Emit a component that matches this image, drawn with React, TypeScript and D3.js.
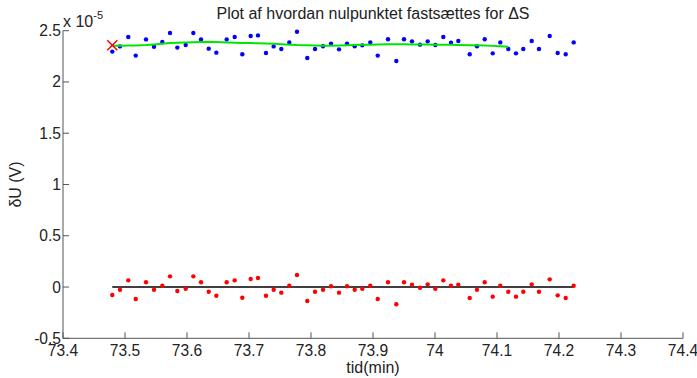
import React from "react";
import * as d3 from "d3";

// time (min)
const times = [
  73.4795, 73.4919, 73.5053, 73.5173, 73.5339, 73.5468, 73.5602, 73.5726, 73.5844, 73.5979,
  73.6102, 73.6226, 73.635, 73.6473, 73.664, 73.6769, 73.6892, 73.7027, 73.7145, 73.7274,
  73.7398, 73.7521, 73.765, 73.7774, 73.794, 73.8065, 73.8194, 73.8323, 73.8452, 73.8581,
  73.8705, 73.8827, 73.8956, 73.9076, 73.9242, 73.9376, 73.95, 73.9629, 73.9758, 73.9882,
  74.0005, 74.0134, 74.0258, 74.0376, 74.056, 74.0677, 74.0802, 74.0931, 74.1053, 74.1182,
  74.1306, 74.1424, 74.156, 74.1677, 74.185, 74.1979, 74.2108, 74.2237,
];

// measured δU (x 1e-5 V), blue
const measured = [
  2.296, 2.347, 2.439, 2.257, 2.415, 2.344, 2.39, 2.478, 2.335, 2.361,
  2.478, 2.415, 2.325, 2.286, 2.415, 2.439, 2.27, 2.448, 2.454, 2.283,
  2.347, 2.322, 2.386, 2.49, 2.234, 2.322, 2.348, 2.374, 2.318, 2.374,
  2.348, 2.357, 2.386, 2.257, 2.416, 2.205, 2.416, 2.396, 2.364, 2.396,
  2.361, 2.439, 2.383, 2.4, 2.27, 2.348, 2.416, 2.279, 2.386, 2.322,
  2.279, 2.322, 2.4, 2.322, 2.448, 2.283, 2.27, 2.386,
];

// running mean (green), defined for the first 50 samples
const smoothed = [
  2.353, 2.353, 2.355, 2.356, 2.36, 2.366, 2.372, 2.38, 2.383, 2.386,
  2.388, 2.391, 2.392, 2.389, 2.386, 2.383, 2.381, 2.379, 2.378, 2.376,
  2.372, 2.368, 2.364, 2.36, 2.358, 2.356, 2.354, 2.353, 2.355, 2.357,
  2.36, 2.362, 2.364, 2.366, 2.368, 2.369, 2.367, 2.366, 2.365, 2.365,
  2.364, 2.363, 2.362, 2.36, 2.359, 2.357, 2.355, 2.352, 2.348, 2.343,
];

// zero-corrected (red)
const corrected = [
  -0.078, -0.026, 0.065, -0.117, 0.046, -0.026, 0.013, 0.104, -0.039, -0.017,
  0.104, 0.046, -0.046, -0.085, 0.046, 0.065, -0.104, 0.078, 0.088, -0.085,
  -0.026, -0.055, 0.013, 0.117, -0.136, -0.046, -0.026, 0.007, -0.055, 0.007,
  -0.026, -0.017, 0.013, -0.117, 0.046, -0.168, 0.046, 0.022, -0.007, 0.026,
  -0.017, 0.065, 0.013, 0.022, -0.107, -0.026, 0.046, -0.094, 0.013, -0.046,
  -0.094, -0.046, 0.026, -0.046, 0.075, -0.081, -0.107, 0.013,
];

const zeroPoint = { t: 73.4795, v: 2.359 };

const xTicks = [73.4, 73.5, 73.6, 73.7, 73.8, 73.9, 74.0, 74.1, 74.2, 74.3, 74.4];
const xTickLabels = ["73.4", "73.5", "73.6", "73.7", "73.8", "73.9", "74", "74.1", "74.2", "74.3", "74.4"];
const yTicks = [-0.5, 0, 0.5, 1, 1.5, 2, 2.5];
const yTickLabels = ["-0.5", "0", "0.5", "1", "1.5", "2", "2.5"];

const W = 697;
const H = 378;
const FONT = "'Liberation Sans', Arial, Helvetica, sans-serif";

export default function App() {
  const x = d3.scaleLinear().domain([73.4, 74.4]).range([63, 683]);
  const y = d3.scaleLinear().domain([-0.5, 2.5]).range([338.3, 30.7]);
  const axisColor = "#555";
  const textColor = "#222";
  const tickLen = 6;

  const greenLine = d3
    .line<number>()
    .x((_, i) => x(times[i]))
    .y((d) => y(d))(smoothed) as string;

  const zeroLine = d3
    .line<number>()
    .x((d) => x(d))
    .y(() => y(0))([times[0], times[times.length - 1]]) as string;

  const x0 = x.range()[0];
  const y0 = y.range()[0];
  const yTop = y.range()[1];
  const xRight = x.range()[1];

  const mx = x(zeroPoint.t);
  const my = y(zeroPoint.v);
  const ms = 5;

  return (
    <svg
      width={W}
      height={H}
      style={{ position: "absolute", left: 0, top: 0, background: "#fff" }}
      fontFamily={FONT}
    >
      <rect x={0} y={0} width={W} height={H} fill="#fff" />

      {/* axes */}
      <line x1={x0} x2={x0} y1={yTop} y2={y0} stroke={axisColor} strokeWidth={1} />
      <line x1={x0} x2={xRight} y1={y0} y2={y0} stroke={axisColor} strokeWidth={1} />
      {xTicks.map((t, i) => (
        <g key={"xt" + i}>
          <line x1={x(t)} x2={x(t)} y1={y0} y2={y0 - tickLen} stroke={axisColor} />
          <text x={x(t)} y={356} fontSize={15.6} textAnchor="middle" fill={textColor}>
            {xTickLabels[i]}
          </text>
        </g>
      ))}
      {yTicks.map((t, i) => (
        <g key={"yt" + i}>
          <line x1={x0} x2={x0 + tickLen} y1={y(t)} y2={y(t)} stroke={axisColor} />
          <text x={61} y={y(t) + 5.5} fontSize={15.6} textAnchor="end" fill={textColor}>
            {yTickLabels[i]}
          </text>
        </g>
      ))}

      {/* exponent */}
      <text x={63} y={27} fontSize={16} fill={textColor}>
        x 10
        <tspan fontSize={11} dy={-8}>
          -5
        </tspan>
      </text>

      {/* title & labels */}
      <text x={(x0 + xRight) / 2} y={19} fontSize={16} textAnchor="middle" fill={textColor}>
        Plot af hvordan nulpunktet fastsættes for ΔS
      </text>
      <text x={(x0 + xRight) / 2} y={372.5} fontSize={16} textAnchor="middle" fill={textColor}>
        tid(min)
      </text>
      <text
        transform={`translate(20.5, ${(yTop + y0) / 2}) rotate(-90)`}
        fontSize={16}
        textAnchor="middle"
        fill={textColor}
      >
        δU (V)
      </text>

      {/* blue measured points */}
      {measured.map((v, i) => (
        <circle key={"b" + i} cx={x(times[i])} cy={y(v)} r={2.2} fill="#0000ff" />
      ))}
      {/* green smoothed line */}
      <path d={greenLine} fill="none" stroke="#00e600" strokeWidth={2} />

      {/* black zero line */}
      <path d={zeroLine} fill="none" stroke="#000" strokeWidth={1.5} />
      {/* red corrected points */}
      {corrected.map((v, i) => (
        <circle key={"r" + i} cx={x(times[i])} cy={y(v)} r={2.2} fill="#ff0000" />
      ))}

      {/* zero-point marker */}
      <g stroke="#ff0000" strokeWidth={1.5}>
        <line x1={mx - ms} y1={my - ms} x2={mx + ms} y2={my + ms} />
        <line x1={mx - ms} y1={my + ms} x2={mx + ms} y2={my - ms} />
      </g>
    </svg>
  );
}
